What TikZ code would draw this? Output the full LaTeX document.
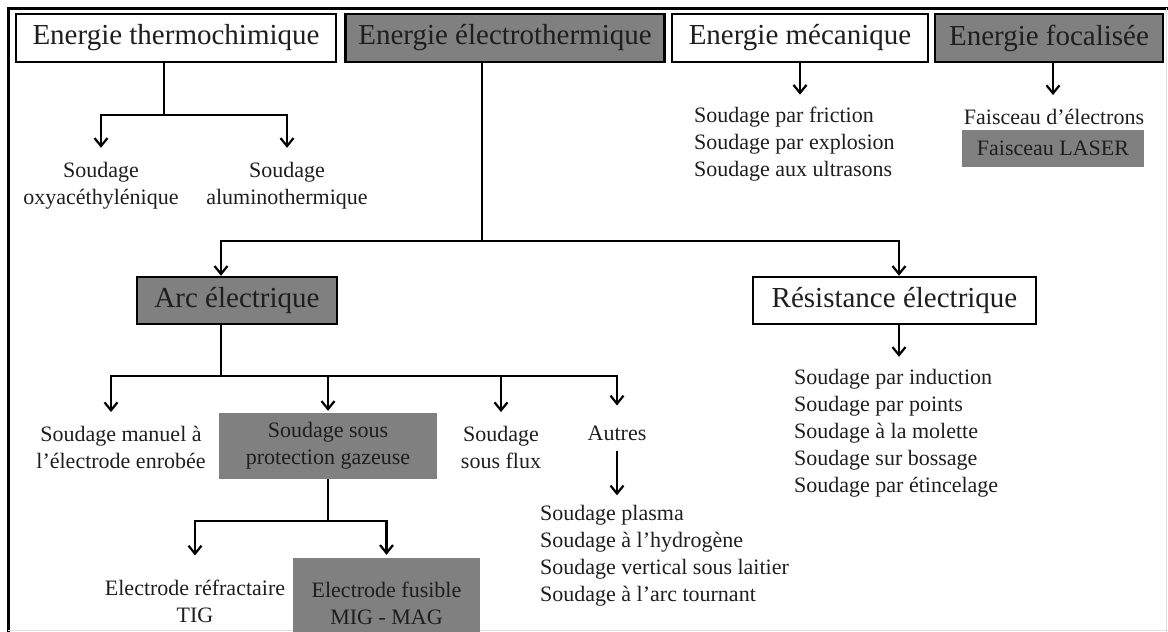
\documentclass[tikz,border=0pt]{standalone}
\usepackage{fontspec}
\setmainfont{Liberation Serif}
\usetikzlibrary{arrows.meta}
\definecolor{boxgray}{RGB}{128,128,128}
\definecolor{ink}{RGB}{30,30,30}
\begin{document}
\begin{tikzpicture}[x=1pt,y=-1pt,
  big/.style={font=\fontsize{29}{33}\selectfont, text=ink, inner sep=0pt, minimum height=48pt, draw=black, line width=2.5pt, anchor=center},
  wbox/.style={big, fill=white},
  gbox/.style={big, fill=boxgray},
  small/.style={font=\fontsize{22}{27}\selectfont, text=ink, inner sep=0pt, align=center},
  lst/.style={font=\fontsize{22}{27}\selectfont, text=ink, inner sep=0pt, align=left, anchor=west},
  gfill/.style={fill=boxgray, text=ink, inner sep=0pt, font=\fontsize{22}{27}\selectfont, align=center},
  conn/.style={line width=2.2pt},
  arr/.style={conn, -{Straight Barb[length=8pt,width=13pt]}}
]
\useasboundingbox (0,0) rectangle (1168,632);
% frame
\draw[line width=3pt] (7,8) -- (1168,8);
\draw[line width=3pt] (8,8) -- (8,632);
\draw[black!12, line width=1pt] (8,630.5) -- (1168,630.5);
\draw[black!12, line width=1pt] (1166.5,8) -- (1166.5,632);

% top boxes
\node[wbox, minimum width=320pt] (T1) at (176,38) {Energie thermochimique};
\node[gbox, minimum width=319pt] (T2) at (505,38) {Energie électrothermique};
\node[wbox, minimum width=256pt] (T3) at (800,38) {Energie mécanique};
\node[gbox, minimum width=228pt] (T4) at (1049,38) {Energie focalisée};

% thermochimique
\node[small] (oxy) at (101,185.5) {Soudage\\oxyacéthylénique};
\node[small] (alu) at (287,185.5) {Soudage\\aluminothermique};
\coordinate (tj) at (164,115);
\draw[conn] (T1.south -| tj) -- (tj);
\draw[arr, shorten >=14pt] (tj) -| (oxy.north);
\draw[arr, shorten >=14pt] (tj) -| (alu.north);

% mecanique
\node[lst] (mec) at (694,144.5) {Soudage par friction\\Soudage par explosion\\Soudage aux ultrasons};
\draw[arr, shorten >=12.5pt] (T3.south) -- (T3.south |- mec.north);

% focalisee
\node[small] (fe) at (1054,117) {Faisceau d’électrons};
\node[gfill, minimum width=182pt, minimum height=37pt] (laser) at (1053,148.5) {Faisceau LASER};
\coordinate (fx) at (1053,0);
\draw[arr, shorten >=14pt] (T4.south -| fx) -- (fx |- fe.north);

% electrothermique
\node[gbox, minimum width=200pt, minimum height=47pt] (arc) at (237,300.5) {Arc électrique};
\node[wbox, minimum width=283pt, minimum height=47pt] (res) at (894.5,300.5) {Résistance électrique};
\coordinate (ej) at (482,241);
\coordinate (ax) at (221,0);
\coordinate (rx) at (899,0);
\draw[conn] (T2.south -| ej) -- (ej);
\draw[arr] (ej) -| (arc.north -| ax);
\draw[arr] (ej) -| (res.north -| rx);

% resistance
\node[lst] (rl) at (794,433.5) {Soudage par induction\\Soudage par points\\Soudage à la molette\\Soudage sur bossage\\Soudage par étincelage};
\draw[arr, shorten >=12.5pt] (res.south -| rx) -- (rl.north -| rx);

% arc electrique branches
\node[small] (man) at (121,447.5) {Soudage manuel à\\l’électrode enrobée};
\node[gfill, minimum width=218pt, minimum height=66pt] (ssp) at (328,446) {Soudage sous\\protection gazeuse};
\node[small] (flux) at (501,447.5) {Soudage\\sous flux};
\node[small] (aut) at (617,433) {Autres};
\coordinate (aj) at (221,376);
\coordinate (mx) at (111,0);
\draw[conn] (arc.south -| aj) -- (aj);
\draw[arr, shorten >=14pt] (aj) -| (man.north -| mx);
\draw[arr, shorten >=2pt] (aj) -| (ssp.north);
\draw[arr, shorten >=14pt] (aj) -| (flux.north);
\draw[arr, shorten >=20pt] (aj) -| (aut.north);

% autres
\node[lst] (al) at (540,556) {Soudage plasma\\Soudage à l’hydrogène\\Soudage vertical sous laitier\\Soudage à l’arc tournant};
\draw[arr, shorten <=10pt, shorten >=10pt] (aut.south) -- (aut.south |- al.north);

% protection gazeuse
\node[small] (tig) at (195,601) {Electrode réfractaire\\TIG};
\node[gfill, minimum width=187pt, minimum height=90pt] (ef) at (386.5,603) {Electrode fusible\\MIG - MAG};
\coordinate (sj) at (328,521);
\draw[conn] (ssp.south) -- (sj);
\draw[arr, shorten >=24pt] (sj) -| (tig.north);
\draw[arr, shorten >=3pt] (sj) -| (ef.north);
\end{tikzpicture}
\end{document}
